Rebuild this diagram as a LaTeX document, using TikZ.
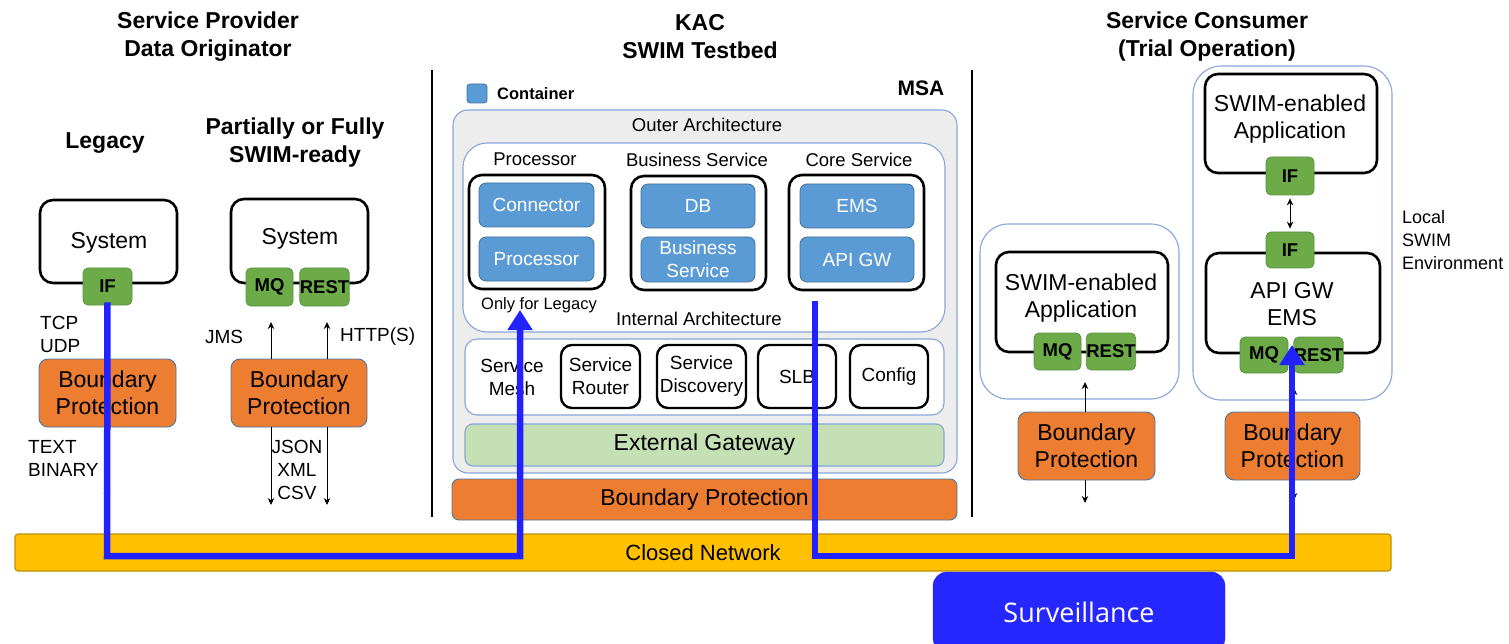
\documentclass[tikz,border=0pt]{standalone}
\usepackage{fontspec}
\setmainfont{Liberation Sans}
\newfontfamily\survfont{Open Sans}
\usetikzlibrary{arrows.meta}
\definecolor{bporange}{HTML}{ED7D31}
\definecolor{bpedge}{HTML}{4A77A0}
\definecolor{grn}{HTML}{6CAB48}
\definecolor{grnedge}{HTML}{5A9140}
\definecolor{contblue}{HTML}{5B9BD5}
\definecolor{contedge}{HTML}{41719C}
\definecolor{frmblue}{HTML}{86A6DA}
\definecolor{outerfill}{HTML}{EDEDED}
\definecolor{egw}{HTML}{C5E0B4}
\definecolor{cnfill}{HTML}{FFC000}
\definecolor{cnedge}{HTML}{BF9000}
\definecolor{pathblue}{HTML}{2222FF}
\definecolor{survblue}{HTML}{2626FF}
\newcommand{\fbig}{\fontsize{23}{27.5}\selectfont}
\newcommand{\fmid}{\fontsize{19}{23}\selectfont}
\newcommand{\fsm}{\fontsize{18.5}{23}\selectfont}
\newcommand{\bx}[6]{\node[#1, minimum width={#4-(#2)}, minimum height={#5-(#3)}] (#6) at ({(#2+#4)/2},{(#3+#5)/2})}
\begin{document}
\begin{tikzpicture}[x=1pt,y=-1pt,
  hdr/.style={inner sep=0pt, align=center, font=\bfseries\fontsize{23}{28}\selectfont},
  lbl/.style={inner sep=0pt, align=center},
  sysbox/.style={draw=black, line width=2.6pt, rounded corners=13pt, fill=white, inner sep=0pt, align=center, font=\fbig},
  grnbox/.style={draw=grnedge, line width=0.8pt, fill=grn, rounded corners=5pt, inner sep=0pt, font=\bfseries\fontsize{18.5}{20}\selectfont},
  bpbox/.style={draw=bpedge, line width=0.9pt, fill=bporange, rounded corners=9pt, inner sep=0pt, align=center, font=\fbig},
  frm/.style={draw=frmblue, line width=1.1pt, fill=white},
  contbox/.style={draw=contedge, line width=0.8pt, fill=contblue, rounded corners=7pt, inner sep=0pt, align=center, text=white, font=\fmid},
  grp/.style={draw=black, line width=2.6pt, rounded corners=13pt, fill=white},
  meshbox/.style={draw=black, line width=2.4pt, rounded corners=11pt, fill=white, inner sep=0pt, align=center, font=\fmid},
  thinarr/.style={line width=0.9pt, -{Stealth[length=7pt,width=6.5pt]}},
  dblarr/.style={line width=0.9pt, {Stealth[length=7pt,width=6.5pt]}-{Stealth[length=7pt,width=6.5pt]}},
  bluepath/.style={draw=pathblue, line width=6.5pt, line join=miter, -{Triangle[length=20pt,width=24pt]}},
  sep/.style={line width=2pt, black}
]
\useasboundingbox (0,0) rectangle (1509,644);

% ---------- headers ----------
\node[hdr] (hsp) at (208,37) {Service Provider\\Data Originator};
\node[hdr] (hkac) at (700,37) {KAC\\SWIM Testbed};
\node[hdr] (hsc) at (1207,37) {Service Consumer\\(Trial Operation)};
\node[hdr] (hleg) at (105,143) {Legacy};
\node[hdr] (hpart) at (295,143) {Partially or Fully\\SWIM-ready};

% separators
\coordinate (s1t) at (432,70); \coordinate (s1b) at (432,517);
\coordinate (s2t) at (972,70); \coordinate (s2b) at (972,517);
\draw[sep] (s1t) -- (s1b);
\draw[sep] (s2t) -- (s2b);

% ---------- Legacy ----------
\bx{sysbox}{40}{200}{177}{283}{lsys} {};
\node[lbl, font=\fbig] (lsystxt) at (109,243) {System};
\bx{grnbox}{83}{268}{132}{305}{lif} {IF};
\node[lbl, anchor=west, align=left, font=\fmid] (ltcp) at (40,334) {TCP\\UDP};
\bx{bpbox}{39}{359}{176}{427}{lbp} {Boundary\\Protection};
\node[lbl, anchor=west, align=left, font=\fmid] (ltext) at (28,458) {TEXT\\BINARY};
\coordinate (ld) at (107,500);
\draw[thinarr] (ld |- lbp.south) -- (ld);

% ---------- Partially ----------
\bx{sysbox}{231}{199}{368}{283}{psys} {};
\node[lbl, font=\fbig] (psystxt) at (300,239) {System};
\bx{grnbox}{246}{268}{293}{306}{pmq} {MQ};
\bx{grnbox}{301}{268}{348}{306}{prest} {REST};
\node[lbl, font=\fmid] (pjms) at (224,337) {JMS};
\node[lbl, anchor=west, font=\fmid] (phttp) at (340,337) {HTTP(S)};
\bx{bpbox}{231}{359}{367}{427}{pbp} {Boundary\\Protection};
\coordinate (pu1) at (271,322); \coordinate (pu2) at (327,322);
\coordinate (pd1) at (271,505); \coordinate (pd2) at (327,505);
\draw[thinarr] (pu1 |- pbp.north) -- (pu1);
\draw[thinarr] (pu2 |- pbp.north) -- (pu2);
\draw[thinarr] (pd1 |- pbp.south) -- (pd1);
\draw[thinarr] (pd2 |- pbp.south) -- (pd2);
\node[lbl, font=\fmid] (pjson) at (297,470) {JSON\\XML\\CSV};

% ---------- KAC SWIM testbed ----------
\bx{contbox, rounded corners=3pt}{467}{84}{487}{103}{legbox} {};
\node[lbl, anchor=west, font=\bfseries\fontsize{16.5}{20}\selectfont] (legtxt) at (497,93.5) {Container};
\node[lbl, font=\bfseries\fontsize{21}{24}\selectfont] (msa) at (921,88) {MSA};

\bx{frm, fill=outerfill, rounded corners=15pt}{453}{110}{957}{473}{outer} {};
\node[lbl, font=\fsm] (outerlbl) at (707,125) {Outer Architecture};
\bx{frm, rounded corners=24pt}{463}{143}{945}{332}{inner} {};
\node[lbl, font=\fsm] (lproc) at (535,159) {Processor};
\node[lbl, font=\fsm] (lbus) at (697,160) {Business Service};
\node[lbl, font=\fsm] (lcore) at (859,160) {Core Service};
\bx{grp}{469}{175}{605}{289}{gproc} {};
\bx{grp}{631}{176}{766}{290}{gbus} {};
\bx{grp}{789}{175}{924}{290}{gcore} {};
\bx{contbox}{479}{183}{594}{227}{cconn} {Connector};
\bx{contbox}{479}{237}{594}{281}{cproc} {Processor};
\bx{contbox}{641}{184}{755}{228}{cdb} {DB};
\bx{contbox}{641}{237}{755}{282}{cbs} {Business\\Service};
\bx{contbox}{800}{184}{914}{228}{cems} {EMS};
\bx{contbox}{800}{237}{914}{282}{capi} {API GW};
\node[lbl, font=\fontsize{16.5}{20}\selectfont] (lonly) at (539,305) {Only for Legacy};
\node[lbl, font=\fsm] (linner) at (699,319) {Internal Architecture};

\bx{frm, rounded corners=12pt}{465}{339}{944}{415}{meshfr} {};
\node[lbl, font=\fmid] (lmesh) at (512,377) {Service\\Mesh};
\bx{meshbox}{561}{345}{640}{408}{mrouter} {Service\\Router};
\bx{meshbox}{657}{345}{746}{408}{mdisc} {Service\\Discovery};
\bx{meshbox}{758}{345}{836}{408}{mslb} {SLB};
\bx{meshbox}{850}{345}{928}{408}{mconf} {Config};
\bx{frm, fill=egw, rounded corners=8pt, font=\fbig}{465}{424}{944}{466}{egwy} {External Gateway};
\bx{bpbox, rounded corners=7pt}{452}{479}{957}{520}{kbp} {Boundary Protection};

% ---------- Consumer 1 ----------
\bx{frm, rounded corners=28pt}{980}{224}{1179}{399}{c1fr} {};
\bx{sysbox}{996}{252}{1168}{352}{c1app} {};
\node[lbl, font=\fbig] (c1txt) at (1081,298) {SWIM-enabled\\Application};
\bx{grnbox}{1034}{333}{1081}{370}{c1mq} {MQ};
\bx{grnbox}{1088}{333}{1134}{370}{c1rest} {REST};
\bx{bpbox}{1018}{412}{1155}{480}{c1bp} {Boundary\\Protection};
\coordinate (c1u) at (1085,382); \coordinate (c1d) at (1085,503);
\draw[thinarr] (c1u |- c1bp.north) -- (c1u);
\draw[thinarr] (c1d |- c1bp.south) -- (c1d);

% ---------- Consumer 2 ----------
\bx{frm, rounded corners=28pt}{1193}{66}{1392}{400}{c2fr} {};
\bx{sysbox}{1205}{74}{1377}{173}{c2app} {};
\node[lbl, font=\fbig] (c2txt) at (1290,119) {SWIM-enabled\\Application};
\bx{sysbox}{1206}{253}{1380}{353}{c2gw} {};
\node[lbl, font=\fbig] (c2gwtxt) at (1292,304) {API GW\\EMS};
\bx{grnbox}{1266}{157}{1314}{195}{c2if1} {IF};
\bx{grnbox}{1266}{232}{1314}{268}{c2if2} {IF};
\draw[dblarr, shorten <=3pt, shorten >=3pt] (c2if1) -- (c2if2);
\bx{grnbox}{1240}{337}{1288}{373}{c2mq} {MQ};
\bx{grnbox}{1295}{337}{1342}{373}{c2rest} {REST};
\bx{bpbox}{1225}{412}{1360}{480}{c2bp} {Boundary\\Protection};
\coordinate (c2u) at (1294,388); \coordinate (c2d) at (1294,500);
\draw[thinarr] (c2u |- c2bp.north) -- (c2u);
\draw[thinarr] (c2d |- c2bp.south) -- (c2d);
\node[lbl, anchor=west, align=left, font=\fontsize{18}{23}\selectfont] (local) at (1402,240) {Local\\SWIM\\Environment};

% ---------- Closed network ----------
\bx{draw=cnedge, line width=1.2pt, fill=cnfill, rounded corners=3pt, inner sep=0pt, font=\fontsize{22}{24}\selectfont}{15}{534}{1391}{571}{cnet} {Closed Network};

% ---------- blue paths ----------
\coordinate (p1a) at (107,556); \coordinate (p1b) at (520,556); \coordinate (p1e) at (520,310);
\draw[bluepath] ([yshift=3pt]lif.south) -- (p1a) -- (p1b) -- (p1e);
\coordinate (p2s) at (815,301); \coordinate (p2a) at (815,556); \coordinate (p2b) at (1292,556); \coordinate (p2e) at (1292,345);
\draw[bluepath] (p2s) -- (p2a) -- (p2b) -- (p2e);

% ---------- Surveillance ----------
\bx{fill=survblue, draw=survblue, rounded corners=14pt, inner sep=0pt, text=white, font=\survfont\fontsize{27}{30}\selectfont}{933}{572}{1225}{652}{surv} {Surveillance};
\end{tikzpicture}
\end{document}
